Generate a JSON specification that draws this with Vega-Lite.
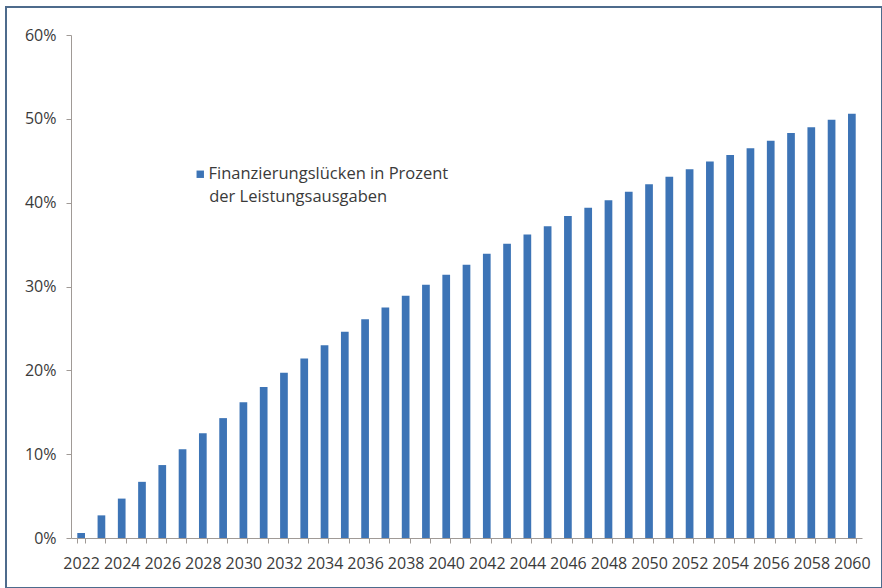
{
  "$schema": "https://vega.github.io/schema/vega-lite/v6.json",
  "autosize": "none",
  "width": 876,
  "height": 581,
  "padding": {"left": 6, "top": 7, "right": 0, "bottom": 0},
  "background": "white",
  "config": {
    "view": {"stroke": "#4d6b8c", "strokeWidth": 2},
    "font": "Open Sans",
    "axis": {"grid": false, "domainColor": "#a09a96", "tickColor": "#a09a96", "tickSize": 5, "labelColor": "#3a3a3a", "labelFontSize": 16, "labelFont": "Open Sans", "title": null}
  },
  "data": {
    "values": [
      {"year": 2022, "value": 0.006, "series": "Finanzierungslücken in Prozent"},
      {"year": 2023, "value": 0.027, "series": "Finanzierungslücken in Prozent"},
      {"year": 2024, "value": 0.047, "series": "Finanzierungslücken in Prozent"},
      {"year": 2025, "value": 0.067, "series": "Finanzierungslücken in Prozent"},
      {"year": 2026, "value": 0.087, "series": "Finanzierungslücken in Prozent"},
      {"year": 2027, "value": 0.106, "series": "Finanzierungslücken in Prozent"},
      {"year": 2028, "value": 0.125, "series": "Finanzierungslücken in Prozent"},
      {"year": 2029, "value": 0.143, "series": "Finanzierungslücken in Prozent"},
      {"year": 2030, "value": 0.162, "series": "Finanzierungslücken in Prozent"},
      {"year": 2031, "value": 0.180, "series": "Finanzierungslücken in Prozent"},
      {"year": 2032, "value": 0.197, "series": "Finanzierungslücken in Prozent"},
      {"year": 2033, "value": 0.214, "series": "Finanzierungslücken in Prozent"},
      {"year": 2034, "value": 0.230, "series": "Finanzierungslücken in Prozent"},
      {"year": 2035, "value": 0.246, "series": "Finanzierungslücken in Prozent"},
      {"year": 2036, "value": 0.261, "series": "Finanzierungslücken in Prozent"},
      {"year": 2037, "value": 0.275, "series": "Finanzierungslücken in Prozent"},
      {"year": 2038, "value": 0.289, "series": "Finanzierungslücken in Prozent"},
      {"year": 2039, "value": 0.302, "series": "Finanzierungslücken in Prozent"},
      {"year": 2040, "value": 0.314, "series": "Finanzierungslücken in Prozent"},
      {"year": 2041, "value": 0.326, "series": "Finanzierungslücken in Prozent"},
      {"year": 2042, "value": 0.339, "series": "Finanzierungslücken in Prozent"},
      {"year": 2043, "value": 0.351, "series": "Finanzierungslücken in Prozent"},
      {"year": 2044, "value": 0.362, "series": "Finanzierungslücken in Prozent"},
      {"year": 2045, "value": 0.372, "series": "Finanzierungslücken in Prozent"},
      {"year": 2046, "value": 0.384, "series": "Finanzierungslücken in Prozent"},
      {"year": 2047, "value": 0.394, "series": "Finanzierungslücken in Prozent"},
      {"year": 2048, "value": 0.403, "series": "Finanzierungslücken in Prozent"},
      {"year": 2049, "value": 0.413, "series": "Finanzierungslücken in Prozent"},
      {"year": 2050, "value": 0.422, "series": "Finanzierungslücken in Prozent"},
      {"year": 2051, "value": 0.431, "series": "Finanzierungslücken in Prozent"},
      {"year": 2052, "value": 0.440, "series": "Finanzierungslücken in Prozent"},
      {"year": 2053, "value": 0.449, "series": "Finanzierungslücken in Prozent"},
      {"year": 2054, "value": 0.457, "series": "Finanzierungslücken in Prozent"},
      {"year": 2055, "value": 0.465, "series": "Finanzierungslücken in Prozent"},
      {"year": 2056, "value": 0.474, "series": "Finanzierungslücken in Prozent"},
      {"year": 2057, "value": 0.483, "series": "Finanzierungslücken in Prozent"},
      {"year": 2058, "value": 0.490, "series": "Finanzierungslücken in Prozent"},
      {"year": 2059, "value": 0.499, "series": "Finanzierungslücken in Prozent"},
      {"year": 2060, "value": 0.506, "series": "Finanzierungslücken in Prozent"}
    ]
  },
  "mark": {"type": "bar"},
  "encoding": {
    "x": {
      "field": "year", "type": "ordinal",
      "scale": {"range": [65, 856], "paddingInner": 0.62, "paddingOuter": 0.31},
      "axis": {"labelAngle": 0, "tickBand": "extent", "offset": -50, "labelPadding": 12,
               "labelExpr": "datum.value % 2 === 0 ? datum.label : ''"}
    },
    "y": {
      "field": "value", "type": "quantitative",
      "scale": {"domain": [0, 0.6], "range": [531, 28], "nice": false},
      "axis": {"values": [0, 0.1, 0.2, 0.3, 0.4, 0.5, 0.6], "format": ".0%", "offset": -65, "labelPadding": 10}
    },
    "color": {
      "field": "series", "type": "nominal",
      "scale": {"range": ["#3d74b6"]},
      "legend": {
        "orient": "none", "legendX": 186, "legendY": 159, "padding": 0,
        "title": "\u200b\u00a0\u00a0\u00a0\u00a0der Leistungsausgaben", "titleOrient": "bottom", "titleAnchor": "start", "titleLimit": 500,
        "titleFontSize": 16.5, "titleFontWeight": "normal", "titleColor": "#3a3a3a", "titleFont": "Open Sans", "titlePadding": 6,
        "labelFontSize": 16.5, "labelColor": "#3a3a3a", "labelFont": "Open Sans", "labelOffset": 0, "labelLimit": 400,
        "symbolType": "square", "symbolSize": 55, "symbolStrokeWidth": 0
      }
    }
  }
}
